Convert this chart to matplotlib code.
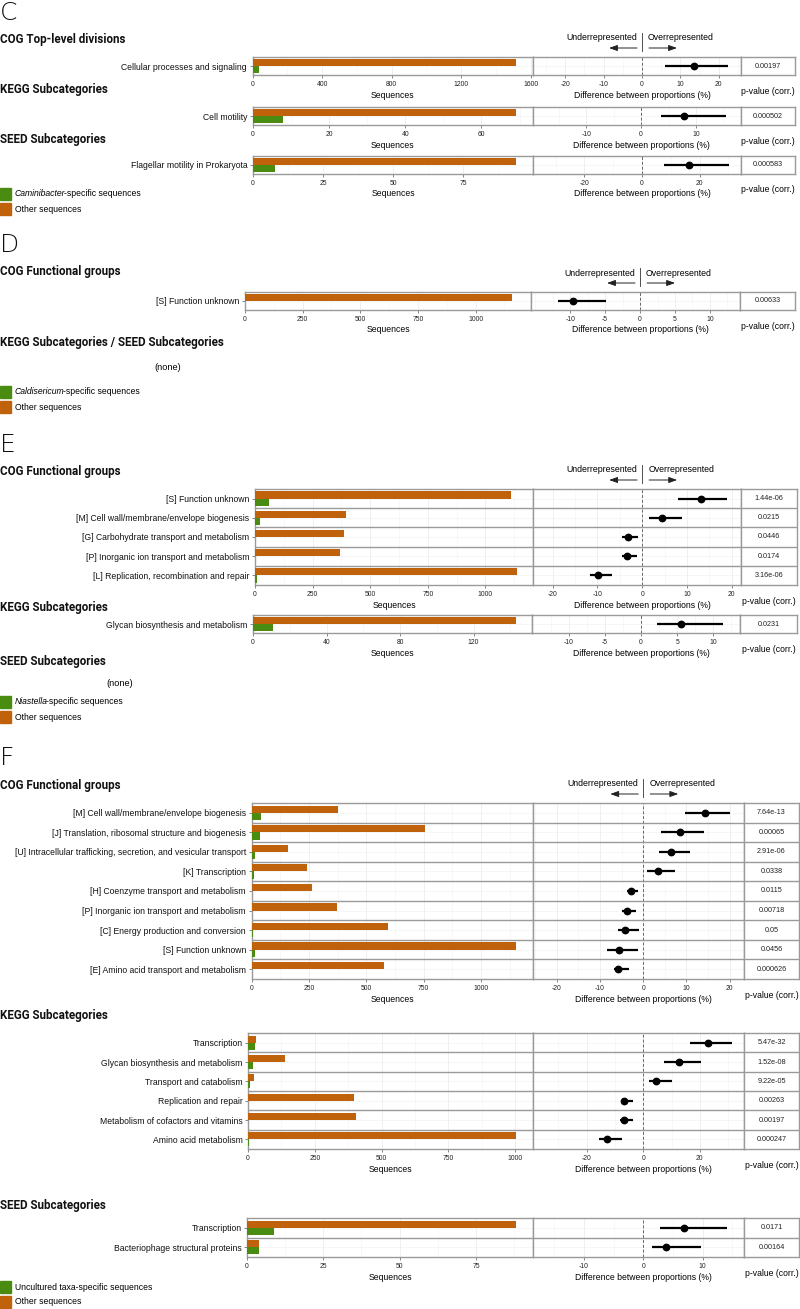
import matplotlib
matplotlib.use('Agg')
import matplotlib.pyplot as plt
from matplotlib import font_manager
from matplotlib.transforms import blended_transform_factory, offset_copy
from matplotlib.patches import Rectangle
from matplotlib.lines import Line2D
from matplotlib.text import Annotation
from matplotlib.ticker import AutoMinorLocator

# ---------------- DATA ----------------
# Panel C
C_cog_labels = ["Cellular processes and signaling"]
C_cog_other = [1518]
C_cog_specific = [37]
C_cog_diff = [13.5]
C_cog_low = [5.9]
C_cog_high = [22.4]
C_cog_pvalues = ["0.00197"]
C_cog_seq_ticks = [0, 400, 800, 1200, 1600]
C_cog_diff_ticks = [-20, -10, 0, 10, 20]

C_kegg_labels = ["Cell motility"]
C_kegg_other = [69.1]
C_kegg_specific = [8]
C_kegg_diff = [7.8]
C_kegg_low = [3.7]
C_kegg_high = [15.4]
C_kegg_pvalues = ["0.000502"]
C_kegg_seq_ticks = [0, 20, 40, 60]
C_kegg_diff_ticks = [-10, 0, 10]

C_seed_labels = ["Flagellar motility in Prokaryota"]
C_seed_other = [94]
C_seed_specific = [8]
C_seed_diff = [16.4]
C_seed_low = [7.6]
C_seed_high = [30.4]
C_seed_pvalues = ["0.000583"]
C_seed_seq_ticks = [0, 25, 50, 75]
C_seed_diff_ticks = [-20, 0, 20]

# Panel D
D_cog_labels = ["[S] Function unknown"]
D_cog_other = [1159]
D_cog_specific = [2]
D_cog_diff = [-9.6]
D_cog_low = [-11.8]
D_cog_high = [-4.9]
D_cog_pvalues = ["0.00633"]
D_cog_seq_ticks = [0, 250, 500, 750, 1000]
D_cog_diff_ticks = [-10, -5, 0, 5, 10]

# Panel E
E_cog_labels = ["[S] Function unknown",
                "[M] Cell wall/membrane/envelope biogenesis",
                "[G] Carbohydrate transport and metabolism",
                "[P] Inorganic ion transport and metabolism",
                "[L] Replication, recombination and repair"]
E_cog_other = [1111, 395, 386, 369, 1137]
E_cog_specific = [61, 22, 2, 1, 8]
E_cog_diff = [13.2, 4.5, -3.2, -3.4, -9.8]
E_cog_low = [8.0, 1.5, -4.5, -4.5, -11.6]
E_cog_high = [19.0, 8.9, -0.9, -1.1, -6.8]
E_cog_pvalues = ["1.44e-06", "0.0215", "0.0446", "0.0174", "3.16e-06"]
E_cog_seq_ticks = [0, 250, 500, 750, 1000]
E_cog_diff_ticks = [-20, -10, 0, 10, 20]

E_kegg_labels = ["Glycan biosynthesis and metabolism"]
E_kegg_other = [143]
E_kegg_specific = [11]
E_kegg_diff = [5.5]
E_kegg_low = [2.2]
E_kegg_high = [11.3]
E_kegg_pvalues = ["0.0231"]
E_kegg_seq_ticks = [0, 40, 80, 120]
E_kegg_diff_ticks = [-10, -5, 0, 5, 10]

# Panel F
F_cog_labels = ["[M] Cell wall/membrane/envelope biogenesis",
                "[J] Translation, ribosomal structure and biogenesis",
                "[U] Intracellular trafficking, secretion, and vesicular transport",
                "[K] Transcription",
                "[H] Coenzyme transport and metabolism",
                "[P] Inorganic ion transport and metabolism",
                "[C] Energy production and conversion",
                "[S] Function unknown",
                "[E] Amino acid transport and metabolism"]
F_cog_other = [377, 757, 160, 242, 263, 374, 595, 1153, 578]
F_cog_specific = [42, 37, 15, 11, 3, 2, 6, 15, 2]
F_cog_diff = [14.3, 8.4, 6.4, 3.3, -2.9, -3.8, -4.2, -5.5, -5.9]
F_cog_low = [9.6, 4.1, 3.6, 0.8, -3.8, -4.9, -5.8, -8.5, -6.7]
F_cog_high = [20.1, 14.1, 10.9, 7.3, -1.3, -1.7, -1.0, -1.2, -3.3]
F_cog_pvalues = ["7.64e-13", "0.00065", "2.91e-06", "0.0338", "0.0115",
                 "0.00718", "0.05", "0.0456", "0.000626"]
F_cog_seq_ticks = [0, 250, 500, 750, 1000]
F_cog_diff_ticks = [-20, -10, 0, 10, 20]

F_kegg_labels = ["Transcription",
                 "Glycan biosynthesis and metabolism",
                 "Transport and catabolism",
                 "Replication and repair",
                 "Metabolism of cofactors and vitamins",
                 "Amino acid metabolism"]
F_kegg_other = [30, 138, 21, 397, 405, 1002]
F_kegg_specific = [28, 19, 7, 1, 1, 5]
F_kegg_diff = [22.7, 12.7, 4.6, -6.8, -7.0, -13.0]
F_kegg_low = [16.4, 7.3, 2.0, -7.9, -8.1, -15.6]
F_kegg_high = [31.2, 20.3, 10.2, -3.7, -3.8, -7.7]
F_kegg_pvalues = ["5.47e-32", "1.52e-08", "9.22e-05", "0.00263", "0.00197", "0.000247"]
F_kegg_seq_ticks = [0, 250, 500, 750, 1000]
F_kegg_diff_ticks = [-20, 0, 20]

F_seed_labels = ["Transcription", "Bacteriophage structural proteins"]
F_seed_other = [88, 4]
F_seed_specific = [9, 4]
F_seed_diff = [6.9, 3.8]
F_seed_low = [2.8, 1.5]
F_seed_high = [14.2, 9.8]
F_seed_pvalues = ["0.0171", "0.00164"]
F_seed_seq_ticks = [0, 25, 50, 75]
F_seed_diff_ticks = [-10, 0, 10]

# ---------------- STYLE ----------------
W, H = 800, 1309
ORANGE = '#C0620C'
GREEN = '#4A8C12'
BORDER = '#9a9a9a'
GRID = '#ededed'

def font_ok(name):
    try:
        font_manager.findfont(name, fallback_to_default=False)
        return True
    except Exception:
        return False

if font_ok('Liberation Sans Narrow'):
    NARROW = ['Liberation Sans Narrow', 'DejaVu Sans']
    FS = 1.0
else:
    NARROW = ['Liberation Sans', 'DejaVu Sans']
    FS = 0.84
BOLD = ['Roboto', 'DejaVu Sans']

plt.rcParams['font.family'] = NARROW
plt.rcParams['axes.unicode_minus'] = False

fig = plt.figure(figsize=(W / 100, H / 100), dpi=100)


def fx(x):
    return x / W


def fy(y):
    return 1 - y / H


def style_axis(ax, minor=True):
    for s in ax.spines.values():
        s.set_color(BORDER)
        s.set_linewidth(1.0)
    ax.set_axisbelow(True)
    if minor:
        ax.xaxis.set_minor_locator(AutoMinorLocator(2))
        ax.grid(True, which='major', axis='x', color=GRID, lw=0.6)
        ax.grid(True, which='minor', axis='x', color='#f5f5f5', lw=0.5)
        ax.grid(True, which='major', axis='y', color='#f3f3f3', lw=0.5)
    ax.tick_params(axis='x', which='minor', length=0)
    ax.tick_params(axis='x', which='major', length=2.5, width=0.5, color='#555555',
                   pad=1.5, labelsize=5.8 * FS, labelcolor='#222222')
    ax.tick_params(axis='y', which='both', length=2.5, width=0.5, color='#555555',
                   pad=1.5, labelsize=7.4 * FS, labelcolor='#111111')


def draw_block(labels, other, specific, diff, low, high, pvalues, seq_ticks,
               diff_ticks, L, T, B, M, DR, PR, seqlim, difflim, header):
    n = len(labels)
    ax_b = fig.add_axes([fx(L), fy(B), fx(M - L), (B - T) / H])
    ax_d = fig.add_axes([fx(M), fy(B), fx(DR - M), (B - T) / H])
    ax_p = fig.add_axes([fx(DR), fy(B), fx(PR - DR), (B - T) / H])
    ypos = list(range(n))

    ax_b.barh([y - 0.185 for y in ypos], other, height=0.37, color=ORANGE, zorder=3)
    ax_b.barh([y + 0.185 for y in ypos], specific, height=0.37, color=GREEN, zorder=3)
    ax_b.set_xlim(*seqlim)
    ax_b.set_ylim(n - 0.5, -0.5)
    ax_b.set_xticks(seq_ticks)
    ax_b.set_yticks(ypos)
    ax_b.set_yticklabels(labels)
    style_axis(ax_b)

    ax_d.axvline(0, ls=(0, (3, 2)), color='#666666', lw=0.7, zorder=2)
    ax_d.hlines(ypos, low, high, color='black', lw=1.6, zorder=4)
    ax_d.plot(diff, ypos, 'o', color='black', ms=4.6, zorder=5)
    ax_d.set_xlim(*difflim)
    ax_d.set_ylim(n - 0.5, -0.5)
    ax_d.set_xticks(diff_ticks)
    ax_d.set_yticks(ypos)
    style_axis(ax_d)
    ax_d.tick_params(axis='y', length=0, labelleft=False)

    ax_p.set_xlim(0, 1)
    ax_p.set_ylim(n - 0.5, -0.5)
    ax_p.set_xticks([])
    ax_p.set_yticks([])
    style_axis(ax_p, minor=False)
    for y, pv in zip(ypos, pvalues):
        ax_p.text(0.5, y, pv, ha='center', va='center', fontsize=6.2 * FS,
                  color='#222222')

    for ax in (ax_b, ax_d, ax_p):
        for k in range(1, n):
            ax.axhline(k - 0.5, color=BORDER, lw=1.0, zorder=6)

    # axis titles
    fig.text(fx((L + M) / 2), fy(B + 20), 'Sequences', ha='center', va='center',
             fontsize=7.4 * FS)
    trans = blended_transform_factory(ax_d.transData, fig.transFigure)
    fig.text(0, fy(B + 20), 'Difference between proportions (%)', ha='center',
             va='center', fontsize=7.4 * FS, transform=trans)
    fig.text(fx((DR + PR) / 2), fy(B + 16), 'p-value (corr.)', ha='center',
             va='center', fontsize=7.4 * FS)

    if header:
        fig.text(0, fy(T - 19), 'Underrepresented', transform=offset_copy(trans, fig, x=-5, units='dots'),
                 ha='right', va='center', fontsize=7.5 * FS)
        fig.text(0, fy(T - 19), 'Overrepresented', transform=offset_copy(trans, fig, x=6, units='dots'),
                 ha='left', va='center', fontsize=7.5 * FS)
        fig.add_artist(Line2D([0, 0], [fy(T - 24), fy(T - 6)], transform=trans,
                              color='#333333', lw=0.6))
        ya = fy(T - 9)
        for x0, x1 in ((-5, -33), (7, 35)):
            ann = Annotation('', xy=(0, ya), xycoords=offset_copy(trans, fig, x=x1, units='dots'),
                             xytext=(0, ya), textcoords=offset_copy(trans, fig, x=x0, units='dots'),
                             arrowprops=dict(arrowstyle='-|>,head_length=0.5,head_width=0.18',
                                             color='#222222', lw=0.7, shrinkA=0, shrinkB=0))
            fig.add_artist(ann)


def panel_letter(letter, y_base):
    fig.text(fx(0), fy(y_base), letter, ha='left', va='baseline', fontsize=18,
             family=['DejaVu Sans'], fontweight='light', color='#111111')


def section_title(text, y):
    fig.text(fx(0), fy(y), text, ha='left', va='center', fontsize=8.4,
             family=BOLD, fontweight='bold', color='#111111')


def legend(y_green, italic, rest):
    for yy, col in ((y_green, GREEN), (y_green + 15, ORANGE)):
        fig.add_artist(Rectangle((fx(0), fy(yy + 6)), 11 / W, 12 / H,
                                 transform=fig.transFigure, color=col))
    if italic:
        t1 = fig.text(fx(15), fy(y_green), italic, ha='left', va='center',
                      style='italic', fontsize=7.4 * FS)
        ann = Annotation(rest, xy=(1, 0), xycoords=t1, xytext=(-1.2, 0),
                         textcoords='offset points', ha='left', va='bottom',
                         fontsize=7.4 * FS)
        fig.add_artist(ann)
    else:
        fig.text(fx(15), fy(y_green), rest, ha='left', va='center', fontsize=7.4 * FS)
    fig.text(fx(15), fy(y_green + 15), 'Other sequences', ha='left', va='center',
             fontsize=7.4 * FS)


# ---------------- PANEL C ----------------
panel_letter('C', 20)
section_title('COG Top-level divisions', 40)
draw_block(C_cog_labels, C_cog_other, C_cog_specific, C_cog_diff, C_cog_low, C_cog_high,
           C_cog_pvalues, C_cog_seq_ticks, C_cog_diff_ticks,
           252.6, 57, 75, 533, 741, 795, (0, 1614), (-28.4, 25.8), True)
section_title('KEGG Subcategories', 90)
draw_block(C_kegg_labels, C_kegg_other, C_kegg_specific, C_kegg_diff, C_kegg_low, C_kegg_high,
           C_kegg_pvalues, C_kegg_seq_ticks, C_kegg_diff_ticks,
           252.6, 107, 125, 533, 741, 795, (0, 73.5), (-19.7, 18.2), False)
section_title('SEED Subcategories', 139)
draw_block(C_seed_labels, C_seed_other, C_seed_specific, C_seed_diff, C_seed_low, C_seed_high,
           C_seed_pvalues, C_seed_seq_ticks, C_seed_diff_ticks,
           253, 156, 174, 533, 741, 795, (0, 100), (-37.9, 34.4), False)
legend(194, 'Caminibacter', '-specific sequences')

# ---------------- PANEL D ----------------
panel_letter('D', 252)
section_title('COG Functional groups', 272)
draw_block(D_cog_labels, D_cog_other, D_cog_specific, D_cog_diff, D_cog_low, D_cog_high,
           D_cog_pvalues, D_cog_seq_ticks, D_cog_diff_ticks,
           245, 292, 310, 531, 740, 795, (0, 1240), (-15.6, 14.3), True)
section_title('KEGG Subcategories / SEED Subcategories', 343)
fig.text(fx(154), fy(367), '(none)', ha='left', va='center', fontsize=7.8 * FS)
legend(392, 'Caldisericum', '-specific sequences')

# ---------------- PANEL E ----------------
panel_letter('E', 452)
section_title('COG Functional groups', 471)
draw_block(E_cog_labels, E_cog_other, E_cog_specific, E_cog_diff, E_cog_low, E_cog_high,
           E_cog_pvalues, E_cog_seq_ticks, E_cog_diff_ticks,
           255, 489, 585, 533, 741, 797, (0, 1207), (-24.4, 22.1), True)
section_title('KEGG Subcategories', 607)
draw_block(E_kegg_labels, E_kegg_other, E_kegg_specific, E_kegg_diff, E_kegg_low, E_kegg_high,
           E_kegg_pvalues, E_kegg_seq_ticks, E_kegg_diff_ticks,
           253, 615, 633, 532, 740, 797, (0, 151.8), (-15.1, 13.7), False)
section_title('SEED Subcategories', 662)
fig.text(fx(106), fy(684), '(none)', ha='left', va='center', fontsize=7.8 * FS)
legend(702, 'Niastella', '-specific sequences')

# ---------------- PANEL F ----------------
panel_letter('F', 765)
section_title('COG Functional groups', 785)
draw_block(F_cog_labels, F_cog_other, F_cog_specific, F_cog_diff, F_cog_low, F_cog_high,
           F_cog_pvalues, F_cog_seq_ticks, F_cog_diff_ticks,
           251.5, 803, 979, 533, 744, 799, (0, 1227), (-25.5, 23.3), True)
section_title('KEGG Subcategories', 1015)
draw_block(F_kegg_labels, F_kegg_other, F_kegg_specific, F_kegg_diff, F_kegg_low, F_kegg_high,
           F_kegg_pvalues, F_kegg_seq_ticks, F_kegg_diff_ticks,
           248, 1033, 1149, 533, 744, 799, (0, 1067), (-39, 35.6), False)
section_title('SEED Subcategories', 1205)
draw_block(F_seed_labels, F_seed_other, F_seed_specific, F_seed_diff, F_seed_low, F_seed_high,
           F_seed_pvalues, F_seed_seq_ticks, F_seed_diff_ticks,
           247, 1218, 1257, 533, 744, 799, (0, 93.7), (-18.6, 17.0), False)
legend(1287, None, 'Uncultured taxa-specific sequences')

fig.savefig('out.png', dpi=100, facecolor='white')
